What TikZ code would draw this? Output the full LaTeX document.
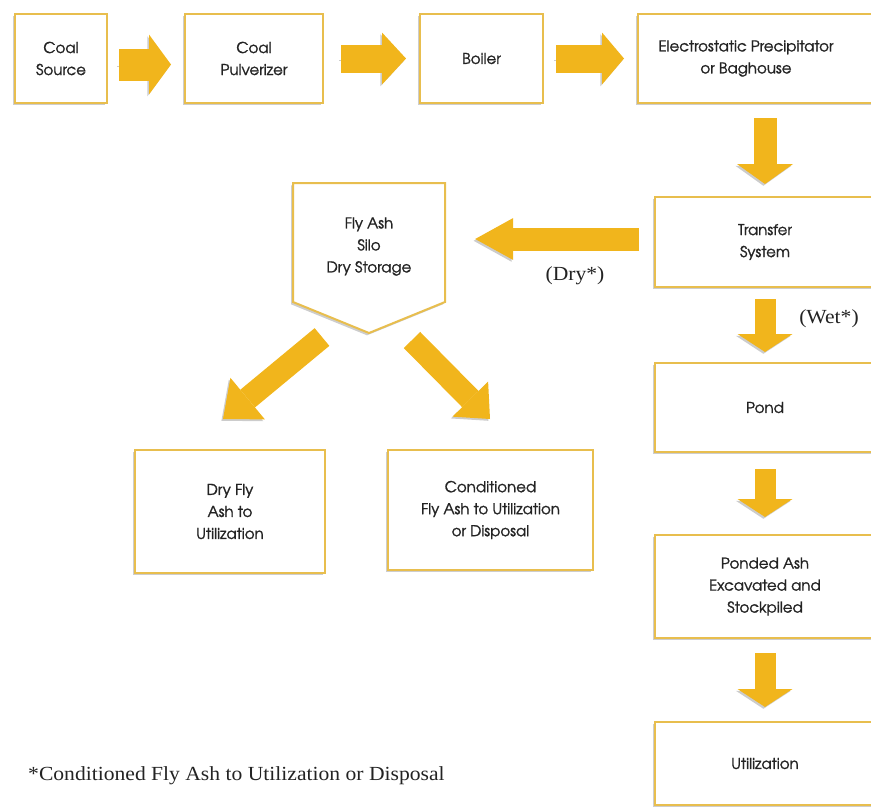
\documentclass[tikz,border=0pt]{standalone}
\usepackage{fontspec}
\setmainfont{Liberation Serif}
\newfontfamily\notefont{Liberation Serif}[FakeStretch=1.08]
\newfontfamily\gothic{texgyreadventor-regular.otf}[FakeBold=1.3]
\usetikzlibrary{arrows.meta,shadows}
\definecolor{gold}{RGB}{241,181,28}
\definecolor{rim}{RGB}{232,190,78}
\definecolor{ink}{RGB}{35,35,35}
\tikzset{
  boxshadow/.style={drop shadow={shadow xshift=-2pt, shadow yshift=-2.3pt, opacity=0.33, fill=black!60}},
  boxfont/.style={font=\gothic\fontsize{15}{22}\selectfont},
  box/.style={draw=rim, line width=2pt, fill=white, align=center, text=ink,
    boxfont, inner sep=0pt, boxshadow},
  btext/.style={align=center, text=ink, boxfont, inner sep=0pt},
  rimline/.style={draw=rim, line width=2pt, fill=white, line join=miter, boxshadow},
  flow/.style n args={3}{draw=gold, line width=#1, line cap=butt,
    -{Triangle[length=#2, width=#3, line width=0pt]},
    preaction={draw=black, opacity=0.2, transform canvas={shift={(-1.6pt,-1.8pt)}}}},
  note/.style={font=\notefont\fontsize{20}{22}\selectfont, text=ink, inner sep=0pt}
}
\begin{document}
\begin{tikzpicture}[x=1pt,y=-1pt]
\useasboundingbox (0,0) rectangle (871,807);
\clip (0,0) rectangle (871,807);

% top row
\node[box, minimum width=92pt, minimum height=89pt] (src) at (61,58.5) {Coal\\Source};
\node[box, minimum width=138pt, minimum height=89pt] (pulv) at (254,58.5) {Coal\\Pulverizer};
\node[box, minimum width=123pt, minimum height=89pt] (boiler) at (481.5,58.5) {Boiler};
\node[box, minimum width=242pt, minimum height=89pt] (esp) at (759,58.5) {};
\node[btext] (esptxt) at (746,58.5) {Electrostatic Precipitator\\or Baghouse};

% right column
\node[box, minimum width=220pt, minimum height=90pt] (tr) at (765,242) {Transfer\\System};
\node[box, minimum width=220pt, minimum height=89pt] (pond) at (765,407.5) {Pond};
\node[box, minimum width=220pt, minimum height=103pt] (pa) at (765,586.5) {Ponded Ash\\Excavated and\\Stockpiled};
\node[box, minimum width=220pt, minimum height=83pt] (util) at (765,763.5) {Utilization};

% silo
\draw[rimline] (293,183) -- (445,183) -- (445,302) -- (369,333) -- (293,302) -- cycle;
\node[btext, minimum width=152pt] (silo) at (369,246.5) {Fly Ash\\Silo\\Dry Storage};

% lower left boxes
\node[box, minimum width=190pt, minimum height=123pt] (dry) at (230,511.5) {Dry Fly\\Ash to\\Utilization};
\node[box, minimum width=205pt, minimum height=120pt] (cond) at (490.5,510) {Conditioned\\Fly Ash to Utilization\\or Disposal};

% arrows
\draw[flow={32pt}{22pt}{60pt}, shorten <=11pt, shorten >=13pt] ([yshift=-6pt]src.east) -- ([yshift=-6pt]pulv.west);
\draw[flow={28pt}{24pt}{52pt}, shorten <=17pt, shorten >=13pt] (pulv.east) -- (boiler.west);
\draw[flow={28pt}{22pt}{52pt}, shorten <=12pt, shorten >=13pt] (boiler.east) -- (esp.west);
\draw[flow={23pt}{20pt}{56pt}, shorten <=14pt, shorten >=12pt] (esp.south -| tr.north) -- (tr.north);
\draw[flow={23pt}{38pt}{42pt}, shorten <=15pt, shorten >=30pt] ([yshift=3pt]tr.west) -- ([yshift=3pt]tr.west -| silo.east);
\draw[flow={21pt}{18pt}{55pt}, shorten <=11pt, shorten >=10pt] (tr.south) -- (pond.north);
\draw[flow={21pt}{18pt}{55pt}, shorten <=16pt, shorten >=17pt] (pond.south) -- (pa.north);
\draw[flow={21pt}{18pt}{55pt}, shorten <=14pt, shorten >=14pt] (pa.south) -- (util.north);

\coordinate (l0) at (322,337);
\coordinate (l1) at (223,419);
\coordinate (r0) at (412,340);
\coordinate (r1) at (490,419);
\draw[flow={23pt}{32pt}{54pt}] (l0) -- (l1);
\draw[flow={23pt}{28pt}{50pt}] (r0) -- (r1);

% labels
\node[note] (drylbl) at (575,276) {(Dry*)};
\node[note] (wetlbl) at (829,319) {(Wet*)};
\node[note, anchor=west] (foot) at (28,776) {*Conditioned Fly Ash to Utilization or Disposal};
\end{tikzpicture}
\end{document}
